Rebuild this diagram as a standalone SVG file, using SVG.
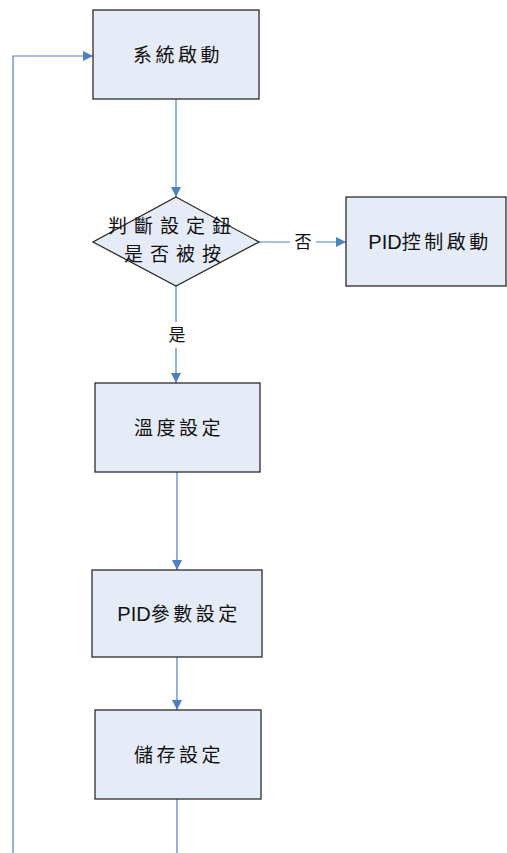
<svg xmlns="http://www.w3.org/2000/svg" width="507" height="853" viewBox="0 0 507 853">
  <style>
    .box { fill: #E6ECF7; stroke: #2b2b2b; stroke-width: 1.3; }
    .edge { fill: none; stroke: #4F81BD; stroke-width: 1.2; }
    .lbl { font-family: "Noto Sans CJK TC", "Noto Sans CJK SC", sans-serif; font-size: 19px; fill: #111; text-anchor: middle; letter-spacing: 3.5px; }
    .dia { font-size: 19px; letter-spacing: 7px; }
    .lat { font-family: "Liberation Sans", Arial, sans-serif; font-size: 20px; letter-spacing: 0; }
    .small { font-family: "Noto Sans CJK TC", sans-serif; font-size: 17px; fill: #111; text-anchor: middle; }
  </style>
  <defs>
    <marker id="arrow" viewBox="0 0 10 10" refX="10" refY="5" markerWidth="10" markerHeight="10" markerUnits="userSpaceOnUse" orient="auto">
      <path d="M0,0 L10,5 L0,10 z" fill="#4F81BD"/>
    </marker>
  </defs>

  <g id="connectors">
    <path class="edge" d="M176,99 V197" marker-end="url(#arrow)"/>
    <path class="edge" d="M259,242 H290 M316,242 H346" marker-end="url(#arrow)"/>
    <path class="edge" d="M176,286 V322 M176,348 V383" marker-end="url(#arrow)"/>
    <path class="edge" d="M177,472 V570" marker-end="url(#arrow)"/>
    <path class="edge" d="M177,657 V710" marker-end="url(#arrow)"/>
    <path class="edge" d="M177,799 V853"/>
    <path class="edge" d="M13,853 V56 H93" marker-end="url(#arrow)"/>
    <text class="small" x="303" y="248">否</text>
    <text class="small" x="177" y="341">是</text>
  </g>

  <g id="start">
    <rect class="box" x="93" y="10" width="166" height="89"/>
    <text class="lbl" x="178" y="62">系統啟動</text>
  </g>

  <g id="decision">
    <polygon class="box" points="176,197 259,242 176,286 93,242"/>
    <text class="lbl dia" x="173" y="233">判斷設定鈕</text>
    <text class="lbl dia" x="176" y="261">是否被按</text>
  </g>

  <g id="pid-start">
    <rect class="box" x="346" y="197" width="160" height="89"/>
    <text class="lbl" x="430" y="249"><tspan class="lat">PID</tspan>控制啟動</text>
  </g>

  <g id="temp-set">
    <rect class="box" x="95" y="383" width="165" height="89"/>
    <text class="lbl" x="179" y="435">溫度設定</text>
  </g>

  <g id="pid-param">
    <rect class="box" x="92" y="570" width="170" height="87"/>
    <text class="lbl" x="179" y="621"><tspan class="lat">PID</tspan>參數設定</text>
  </g>

  <g id="save">
    <rect class="box" x="95" y="710" width="166" height="89"/>
    <text class="lbl" x="179" y="762">儲存設定</text>
  </g>
</svg>
